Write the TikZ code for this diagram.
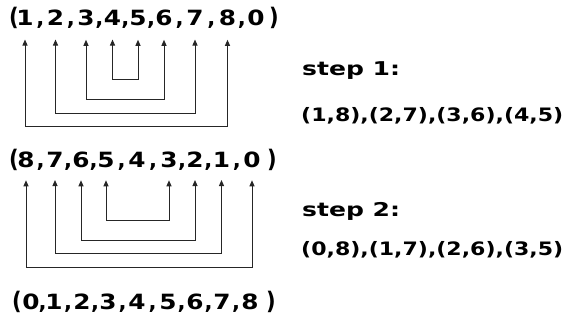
\documentclass[tikz,border=0pt]{standalone}
\usepackage{fontspec}
\usepackage{graphicx}
\setmainfont{DejaVu Sans}
\usetikzlibrary{arrows.meta,calc}
% wide digit, in the spirit of a rounded hand-lettered face
\newcommand\widech[1]{\scalebox{1.18}[1]{#1}}
\newcommand\tallch[1]{\scalebox{1}[1.15]{#1}}
\begin{document}
\begin{tikzpicture}[x=1pt,y=-1pt,
  seq/.style={font=\fontsize{21}{21}\selectfont\bfseries, inner sep=0pt, outer sep=0pt, anchor=base},
  link/.style={draw=black!85, line width=1pt,
    {Triangle[length=6pt,width=5pt]}-{Triangle[length=6pt,width=5pt]},
    shorten <=#1, shorten >=#1},
  note/.style={font=\fontsize{19}{19}\selectfont\bfseries, inner sep=0pt, anchor=base west},
  pairs/.style={font=\fontsize{18.5}{18.5}\selectfont\bfseries, inner sep=0pt, anchor=base west}]
\useasboundingbox (0,0) rectangle (566,322);

% first sequence
\node[seq] (tl) at (14,25.5) {\tallch{(}};
\foreach \d/\x [count=\i] in {1/25,2/55.5,3/86,4/112.5,5/138,6/164,7/195,8/227.5,0/256}
  \node[seq] (t\i) at (\x,25.5) {\widech{\d}};
\node[seq] (tr) at (274,25.5) {\tallch{)}};
\foreach \i [evaluate=\i as \j using int(\i+1)] in {1,...,8}
  \node[seq] (tc\i) at ($(t\i.base)!.5!(t\j.base)$) {,};

% second sequence
\node[seq] (ml) at (14,167) {\tallch{(}};
\foreach \d/\x [count=\i] in {8/26,7/55,6/81,5/106,4/137,3/169,2/195,1/221.5,0/252}
  \node[seq] (m\i) at (\x,167) {\widech{\d}};
\node[seq] (mr) at (272,167) {\tallch{)}};
\foreach \i [evaluate=\i as \j using int(\i+1)] in {1,...,8}
  \node[seq] (mc\i) at ($(m\i.base)!.5!(m\j.base)$) {,};

% third sequence
\node[seq] (bl) at (17,309) {\tallch{(}};
\foreach \d/\x [count=\i] in {0/31,1/54,2/82,3/108,4/137,5/168,6/195,7/222,8/250}
  \node[seq] (b\i) at (\x,309) {\widech{\d}};
\node[seq] (br) at (271,309) {\tallch{)}};
\foreach \i [evaluate=\i as \j using int(\i+1)] in {1,...,8}
  \node[seq] (bc\i) at ($(b\i.base)!.5!(b\j.base)$) {,};

% levels of the swap brackets
\coordinate (u1) at (0,126);
\coordinate (u2) at (0,113);
\coordinate (u3) at (0,99);
\coordinate (u4) at (0,79);
\coordinate (v1) at (0,267);
\coordinate (v2) at (0,253);
\coordinate (v3) at (0,240);
\coordinate (v4) at (0,220);

% step 1 swaps
\draw[link=14] (t1) -- (t1 |- u1) -| (t8);
\draw[link=14] (t2) -- (t2 |- u2) -| (t7);
\draw[link=14] (t3) -- (t3 |- u3) -| (t6);
\draw[link=14] (t4) -- (t4 |- u4) -| (t5);

% step 2 swaps
\draw[link=13] (m1) -- (m1 |- v1) -| (m9);
\draw[link=13] (m2) -- (m2 |- v2) -| (m8);
\draw[link=13] (m3) -- (m3 |- v3) -| (m7);
\draw[link=13] (m4) -- (m4 |- v4) -| (m6);

% descriptions
\node[note] (s1) at (302,75) {\resizebox{98pt}{\height}{step 1:}};
\node[pairs] (p1) at (301,121.7) {\resizebox{262pt}{\height}{(1,8),(2,7),(3,6),(4,5)}};
\node[note] (s2) at (302,216.7) {\resizebox{98pt}{\height}{step 2:}};
\node[pairs] (p2) at (301,255) {\resizebox{262pt}{\height}{(0,8),(1,7),(2,6),(3,5)}};
\end{tikzpicture}
\end{document}
